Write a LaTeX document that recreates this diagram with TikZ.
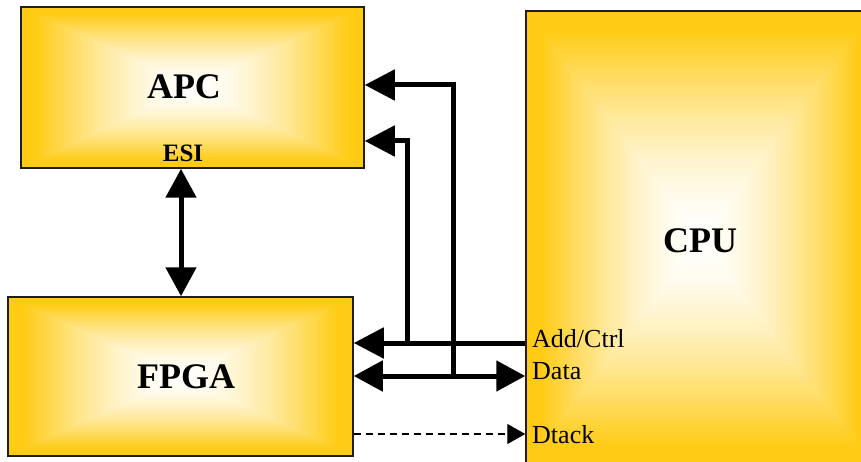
\documentclass[tikz,border=0pt]{standalone}
\usepackage{fontspec}
\setmainfont{Liberation Serif}
\usetikzlibrary{arrows.meta,calc}

\definecolor{gold}{RGB}{255,203,20}
\definecolor{edge}{RGB}{30,30,30}

% Rectangular (box) gradient: nested rectangles from gold rim to white core
\newcommand\boxgrad{%
  \foreach \i in {0,...,59}{%
    \pgfmathsetmacro\s{1-\i/60}%
    \pgfmathsetmacro\p{100*(min(1,\s/0.92))^1.6}%
    \fill[gold!\p!white]
      ($(path picture bounding box.center)!\s!(path picture bounding box.south west)$)
      rectangle
      ($(path picture bounding box.center)!\s!(path picture bounding box.north east)$);
  }}

\tikzset{
  block/.style={draw=edge, line width=1.5pt, rectangle, inner sep=0pt,
    path picture={\boxgrad}},
  bus/.style={line width=5pt},
  bigtip/.style={-{Triangle[length=30pt,width=30pt]}},
  bigtips/.style={{Triangle[length=29pt,width=30pt]}-{Triangle[length=29pt,width=30pt]}},
  pinlabel/.style={anchor=base west, inner sep=0pt, font=\fontsize{26}{28}\selectfont},
  title/.style={anchor=base, inner sep=0pt, font=\bfseries\fontsize{36}{40}\selectfont},
}

\begin{document}
\begin{tikzpicture}[x=1pt,y=-1pt]
  \useasboundingbox (0,0) rectangle (861,462);
  \clip (0,0) rectangle (861,462);

  % Blocks
  \node[block, minimum width=343pt, minimum height=161pt] (APC) at (192.5,87.5) {};
  \node[block, minimum width=345pt, minimum height=159pt] (FPGA) at (180.5,376.5) {};
  \node[block, minimum width=348pt, minimum height=456pt] (CPU) at (700,239) {};

  % Titles
  \node[title] (apct) at (184,99) {APC};
  \node[title] (fpgat) at (186,388) {FPGA};
  \node[title] (cput) at (700,252) {CPU};
  \node[anchor=base, inner sep=0pt, font=\bfseries\fontsize{25}{28}\selectfont] (esi) at (183,162) {ESI};

  % Pin labels on the CPU
  \node[pinlabel] (ladd) at (532,347) {Add/Ctrl};
  \node[pinlabel] (ldata) at (532,379) {Data};
  \node[pinlabel] (ldtack) at (532,443) {Dtack};

  % Pin points
  \coordinate (cpuAdd) at (CPU.west |- 0,343);
  \coordinate (fpgaAdd) at (FPGA.east |- 0,343);
  \coordinate (cpuData) at (CPU.west |- 0,376);
  \coordinate (fpgaData) at (FPGA.east |- 0,376);
  \coordinate (cpuDtack) at (CPU.west |- 0,434);
  \coordinate (fpgaDtack) at (FPGA.east |- 0,434);
  \coordinate (apcA) at (APC.east |- 0,85);
  \coordinate (apcB) at (APC.east |- 0,141);
  \coordinate (tapAdd) at (407,343);
  \coordinate (tapData) at (453,376);

  % ESI link
  \draw[bus, bigtips] (APC.south -| 181,0) -- (FPGA.north -| 181,0);

  % Buses
  \draw[bus, bigtip] (cpuAdd) -- (fpgaAdd);
  \draw[bus, bigtips] (fpgaData) -- (cpuData);
  \draw[bus, bigtip, line join=miter] (tapAdd) -- (tapAdd |- apcB) -- (apcB);
  \draw[bus, bigtip, line join=miter] (tapData) -- (tapData |- apcA) -- (apcA);

  % Dtack
  \draw[line width=1.3pt, dash pattern=on 7pt off 5pt,
        -{Triangle[length=18pt,width=20pt]}] (fpgaDtack) -- (cpuDtack);
\end{tikzpicture}
\end{document}
